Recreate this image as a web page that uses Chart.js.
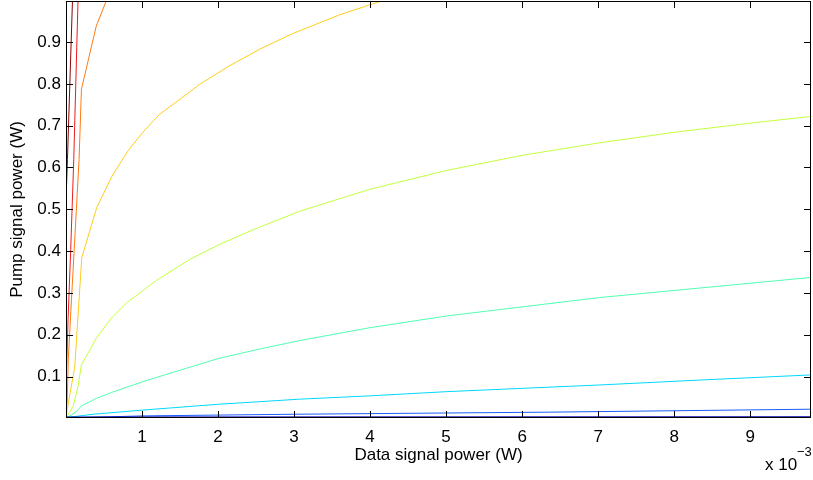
<!DOCTYPE html>
<html>
<head>
<meta charset="utf-8">
<script src="https://cdn.jsdelivr.net/npm/chart.js@4.4.0/dist/chart.umd.min.js"></script>
<style>
  html, body { margin: 0; padding: 0; background: #fff; }
</style>
</head>
<body>
<canvas id="chart" width="813" height="480"></canvas>
<script>
// x values are in units of 1e-3 W (axis shows "x 10^-3"), y values in W
const xTicks = [1, 2, 3, 4, 5, 6, 7, 8, 9];
const yTicks = [0.1, 0.2, 0.3, 0.4, 0.5, 0.6, 0.7, 0.8, 0.9];

const navyX = [0, 9.8];
const navyY = [0.0015, 0.002];

const blueX = [0, 1, 3, 6.36, 9.8];
const blueY = [0.001, 0.006, 0.010, 0.015, 0.022];

const cyanX = [0, 0.049, 0.356, 1.013, 2.02, 3.07, 4.0, 5.01, 7.02, 8.37, 9.8];
const cyanY = [0.001, 0.003, 0.010, 0.020, 0.034, 0.046, 0.054, 0.064, 0.080, 0.092, 0.104];

const aquaX = [0.001, 0.049, 0.137, 0.203, 0.400, 0.598, 1.013, 1.584, 2.02, 2.55, 3.07, 4.0, 5.01, 7.02, 9.8];
const aquaY = [0.001, 0.006, 0.016, 0.030, 0.048, 0.062, 0.088, 0.120, 0.144, 0.166, 0.186, 0.217, 0.245, 0.289, 0.337];

const limeX = [0.006, 0.093, 0.158, 0.203, 0.400, 0.598, 0.795, 1.19, 1.627, 2.02, 2.46, 3.07, 4.0, 5.01, 6.0, 7.02, 8.0, 9.0, 9.8];
const limeY = [0.004, 0.028, 0.076, 0.128, 0.192, 0.240, 0.276, 0.330, 0.380, 0.416, 0.451, 0.495, 0.548, 0.593, 0.629, 0.659, 0.684, 0.706, 0.722];

const goldX = [0.001, 0.014, 0.115, 0.207, 0.404, 0.602, 0.812, 1.01, 1.23, 1.50, 1.76, 2.15, 2.55, 2.98, 3.60, 4.15];
const goldY = [0.001, 0.020, 0.123, 0.384, 0.504, 0.578, 0.639, 0.684, 0.727, 0.763, 0.799, 0.843, 0.883, 0.920, 0.965, 0.998];

const orangeX = [0.001, 0.016, 0.030, 0.072, 0.172, 0.203, 0.398, 0.529];
const orangeY = [0.008, 0.044, 0.140, 0.284, 0.619, 0.787, 0.938, 0.998];

const redX = [0, 0.003, 0.027, 0.062, 0.102, 0.158];
const redY = [0.056, 0.094, 0.236, 0.404, 0.619, 0.998];

const darkRedX = [0, 0.019, 0.085];
const darkRedY = [0.52, 0.619, 0.998];

function pts(xs, ys) {
  return xs.map((x, i) => ({ x: x, y: ys[i] }));
}

function contour(xs, ys, color, width) {
  return {
    data: pts(xs, ys),
    borderColor: color,
    borderWidth: width || 1,
    pointRadius: 0,
    tension: 0,
    fill: false
  };
}

const font = '"Liberation Sans", Arial, sans-serif';

// MATLAB style box with inward ticks on all four sides, plus the x exponent
const axesBox = {
  id: 'axesBox',
  afterDatasetsDraw(chart) {
    const { ctx, chartArea: a, scales } = chart;
    const x = scales.x, y = scales.y;
    ctx.save();
    ctx.strokeStyle = '#000';
    ctx.lineWidth = 1;
    ctx.beginPath();
    xTicks.forEach(v => {
      const px = Math.round(x.getPixelForValue(v)) + 0.5;
      ctx.moveTo(px, a.bottom); ctx.lineTo(px, a.bottom - 7);
      ctx.moveTo(px, a.top); ctx.lineTo(px, a.top + 7);
    });
    yTicks.forEach(v => {
      const py = Math.round(y.getPixelForValue(v)) + 0.5;
      ctx.moveTo(a.left, py); ctx.lineTo(a.left + 7, py);
      ctx.moveTo(a.right, py); ctx.lineTo(a.right - 7, py);
    });
    ctx.stroke();
    ctx.strokeRect(a.left + 0.5, a.top + 0.5, a.right - a.left - 1, a.bottom - a.top - 1);

    ctx.fillStyle = '#000';
    ctx.textAlign = 'left';
    ctx.textBaseline = 'alphabetic';
    ctx.font = '17px ' + font;
    ctx.fillText('x 10', a.right - 46, 470);
    ctx.font = '13px ' + font;
    ctx.fillText('\u22123', a.right - 14, 456);
    ctx.restore();
  }
};

new Chart(document.getElementById('chart'), {
  type: 'line',
  data: {
    datasets: [
      contour(navyX, navyY, '#0000b4', 2.5),
      contour(blueX, blueY, '#1a5cff'),
      contour(cyanX, cyanY, '#00d8ff'),
      contour(aquaX, aquaY, '#50ffb0'),
      contour(limeX, limeY, '#c4ff3c'),
      contour(goldX, goldY, '#ffcc1a'),
      contour(orangeX, orangeY, '#ff7a10'),
      contour(redX, redY, '#f01c1c'),
      contour(darkRedX, darkRedY, '#8f0000')
    ]
  },
  options: {
    responsive: false,
    animation: false,
    devicePixelRatio: 1,
    layout: { padding: { left: 0, right: 2, top: 1, bottom: 0 } },
    plugins: {
      legend: { display: false },
      tooltip: { enabled: false }
    },
    scales: {
      x: {
        type: 'linear',
        min: 0,
        max: 9.8,
        grid: { display: false, drawTicks: false },
        border: { display: false },
        afterBuildTicks: s => { s.ticks = xTicks.map(v => ({ value: v })); },
        afterFit: s => { s.height = 62; s.paddingLeft = 0; s.paddingRight = 0; },
        ticks: {
          padding: 9,
          color: '#000',
          font: { family: font, size: 17 },
          maxRotation: 0,
          callback: v => String(v)
        },
        title: {
          display: true,
          text: 'Data signal power (W)',
          color: '#000',
          font: { family: font, size: 17 },
          padding: { top: 0, bottom: 14 }
        }
      },
      y: {
        type: 'linear',
        min: 0.001,
        max: 0.998,
        grid: { display: false, drawTicks: false },
        border: { display: false },
        afterBuildTicks: s => { s.ticks = yTicks.map(v => ({ value: v })); },
        afterFit: s => { s.width = 66; s.paddingTop = 0; s.paddingBottom = 0; },
        ticks: {
          padding: 5,
          color: '#000',
          font: { family: font, size: 17 },
          callback: v => v.toFixed(1)
        },
        title: {
          display: true,
          text: 'Pump signal power (W)',
          color: '#000',
          font: { family: font, size: 17 },
          padding: { top: 7, bottom: 0 }
        }
      }
    }
  },
  plugins: [axesBox]
});
</script>
</body>
</html>
